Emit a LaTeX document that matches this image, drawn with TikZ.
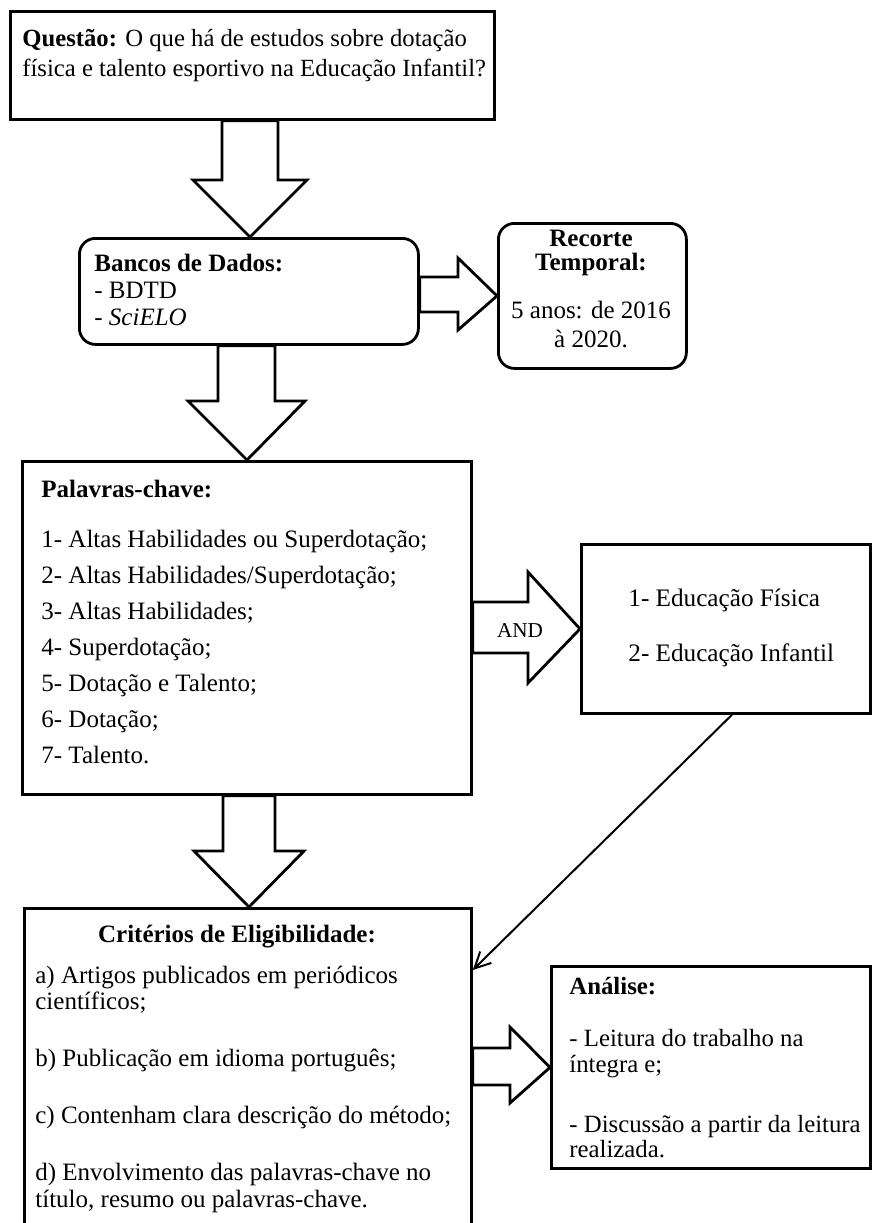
\documentclass[tikz,border=0pt]{standalone}
\usepackage{fontspec}
\setmainfont{Liberation Serif}
\usetikzlibrary{arrows.meta,positioning,calc}

\begin{document}
\begin{tikzpicture}[
  x=0.5pt, y=-0.5pt,
  box/.style={rectangle, draw=black, line width=1.4pt, inner sep=0pt,
              anchor=north west},
  rbox/.style={box, rounded corners=8pt},
  txt/.style={anchor=base west, inner sep=0pt, align=left},
  fat/.style={draw=black, fill=white, line width=1.4pt, line join=miter},
  link/.style={draw=black, line width=1pt,
               -{Straight Barb[length=8pt,width=8pt]}},
]
\useasboundingbox (0,0) rectangle (872,1223);
\clip (0,0) rectangle (872,1223);
% Questao (text nodes sit on the baseline of their last line)
\node[box, minimum width=242pt, minimum height=54pt] (quest) at (9,10) {};
\node[txt, font=\fontsize{12.35}{15}\selectfont] (questtxt) at (22,76)
  {\textbf{Questão:} O que há de estudos sobre dotação\\
   física e talento esportivo na Educação Infantil?};
% Bancos de dados | Recorte temporal
\node[rbox, minimum width=169.5pt, minimum height=53pt] (bancos) at (78,237) {};
\node[txt, font=\fontsize{12.5}{13.5}\selectfont] (bancostxt) at (94,325)
  {\textbf{Bancos de Dados:}\\- BDTD\\- \textit{SciELO}};
\node[rbox, minimum width=94pt, minimum height=72.5pt] (recorte) at (497,222) {};
\node[txt, anchor=base, align=center, font=\fontsize{12.5}{12}\selectfont]
  (recortetxt) at (591,347)
  {\textbf{Recorte}\\\textbf{Temporal:}\\[12pt]5 anos: de 2016\\[2.5pt]à 2020.};
% Palavras-chave | AND
\node[box, minimum width=224.5pt, minimum height=166.5pt] (palavras) at (21,460) {};
\node[txt, font=\fontsize{12.5}{18}\selectfont] (palavrastxt) at (41,763)
  {\textbf{Palavras-chave:}\\[7pt]
   1- Altas Habilidades ou Superdotação;\\
   2- Altas Habilidades/Superdotação;\\
   3- Altas Habilidades;\\
   4- Superdotação;\\
   5- Dotação e Talento;\\
   6- Dotação;\\
   7- Talento.};
\node[box, minimum width=144.5pt, minimum height=84.5pt] (educ) at (580,543) {};
\node[txt, font=\fontsize{12.6}{27.5}\selectfont] (eductxt) at (628,661)
  {1- Educação Física\\2- Educação Infantil};
% Criterios | Analise
\node[box, minimum width=223.5pt, minimum height=170pt] (crit) at (23,907) {};
\node[txt, anchor=base, font=\fontsize{12.5}{13}\selectfont\bfseries] (crittit)
  at (237,942) {Critérios de Eligibilidade:};
\node[txt, font=\fontsize{12.5}{13}\selectfont] (crittxt) at (35,1207)
  {a) Artigos publicados em periódicos\\
   científicos;\\[15.5pt]
   b) Publicação em idioma português;\\[15.5pt]
   c) Contenham clara descrição do método;\\[15.5pt]
   d) Envolvimento das palavras-chave no\\[0.5pt]
   título, resumo ou palavras-chave.};
\node[box, minimum width=159.5pt, minimum height=101pt] (analise) at (550,965) {};
\node[txt, font=\fontsize{12.4}{13}\selectfont] (analisetxt) at (569,1157)
  {\textbf{Análise:}\\[13pt]
   - Leitura do trabalho na\\
   íntegra e;\\[17pt]
   - Discussão a partir da leitura\\[-0.5pt]
   realizada.};
% block arrows
\draw[fat] (222,0 |- quest.south) -- (222,180) -- (193,180)
  -- (250,0 |- bancos.north) -- (307,180) -- (278,180)
  -- (278,0 |- quest.south) -- cycle;
\draw[fat] (bancos.east |- 0,277) -- (458,277) -- (458,258) -- (recorte.west)
  -- (458,330) -- (458,312) -- (bancos.east |- 0,312) -- cycle;
\draw[fat] (218,0 |- bancos.south) -- (218,401) -- (188,401)
  -- (247,0 |- palavras.north) -- (305,401) -- (275,401)
  -- (275,0 |- bancos.south) -- cycle;
\draw[fat] (palavras.east |- 0,602) -- (528,602) -- (528,572) -- (educ.west)
  -- (528,683) -- (528,653) -- (palavras.east |- 0,653) -- cycle;
\node[anchor=base, inner sep=0pt, font=\fontsize{10.6}{12}\selectfont] (andtxt)
  at (520,637) {AND};
\draw[fat] (223,0 |- palavras.south) -- (223,851) -- (194,851)
  -- (249,0 |- crit.north) -- (304,851) -- (275,851)
  -- (275,0 |- palavras.south) -- cycle;
\draw[fat] (crit.east |- 0,1048) -- (510,1048) -- (510,1027) -- (analise.west)
  -- (510,1103) -- (510,1085) -- (crit.east |- 0,1085) -- cycle;
% Educacao -> Criterios
\draw[link] ([xshift=3pt]educ.south) -- ([yshift=-31.5pt]crit.north east);
\end{tikzpicture}
\end{document}
